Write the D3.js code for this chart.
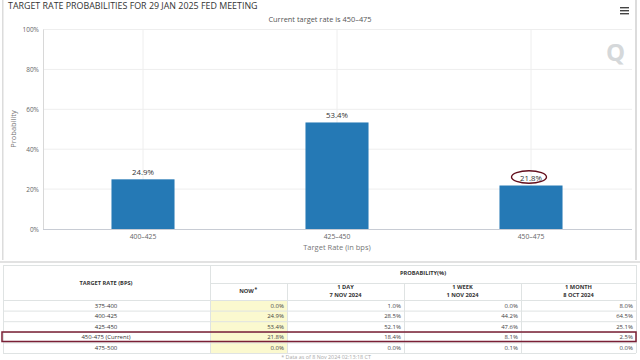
<!DOCTYPE html>
<html><head><meta charset="utf-8">
<script src="https://cdn.jsdelivr.net/npm/d3@7"></script>
<style>html,body{margin:0;padding:0;background:#fff;overflow:hidden}svg{display:block}text{font-family:"Open Sans",sans-serif}</style>
</head><body><svg id="c" width="640" height="360"></svg>
<script>
const categories=["400-425","425-450","450-475"];
const values=[24.9,53.4,21.8];
const yTicks=[0,20,40,60,80,100];
const rates=["375-400","400-425","425-450","450-475 (Current)","475-500"];
const nowCol=["0.0%","24.9%","53.4%","21.8%","0.0%"];
const dayCol=["1.0%","28.5%","52.1%","18.4%","0.0%"];
const weekCol=["0.0%","44.2%","47.6%","8.1%","0.1%"];
const monthCol=["8.0%","64.5%","25.1%","2.5%","0.0%"];
const colHeads=[["NOW"],["1 DAY","7 NOV 2024"],["1 WEEK","1 NOV 2024"],["1 MONTH","8 OCT 2024"]];
const highlighted="450-475";

const svg=d3.select("#c");
// page frame
svg.append("rect").attr("x",2).attr("y",0).attr("width",1.5).attr("height",260).attr("fill","#dcdcdc");
svg.append("rect").attr("x",635).attr("y",0).attr("width",2).attr("height",260).attr("fill","#dcdcdc");
svg.append("rect").attr("x",0).attr("y",261).attr("width",640).attr("height",2).attr("fill","#e2e2e2");

const x=d3.scaleBand().domain(categories).range([46,628]).paddingInner(0.675).paddingOuter(0.3375);
const y=d3.scaleLinear().domain([0,100]).range([229,29.5]);
const gridCol="#eeeeee";
const plotLeft=43,plotRight=632;
svg.append("g").selectAll("line").data(yTicks.slice(1)).join("line")
 .attr("x1",plotLeft).attr("x2",plotRight).attr("y1",d=>y(d)).attr("y2",d=>y(d)).attr("stroke",gridCol);
svg.append("g").selectAll("line").data(categories).join("line")
 .attr("x1",d=>x(d)+x.bandwidth()/2).attr("x2",d=>x(d)+x.bandwidth()/2).attr("y1",y(100)).attr("y2",y(0)).attr("stroke",gridCol);
svg.append("line").attr("x1",plotLeft+.5).attr("x2",plotLeft+.5).attr("y1",y(100)).attr("y2",y(0)).attr("stroke","#d8d8d8");
svg.append("line").attr("x1",plotLeft).attr("x2",plotRight).attr("y1",y(0)+.5).attr("y2",y(0)+.5).attr("stroke","#c8ccd4");

svg.append("g").selectAll("rect").data(categories).join("rect")
 .attr("x",d=>x(d)).attr("width",x.bandwidth())
 .attr("y",(d,i)=>y(values[i])).attr("height",(d,i)=>y(0)-y(values[i])).attr("fill","#2579b5");
svg.append("g").selectAll("text").data(categories).join("text")
 .attr("x",d=>x(d)+x.bandwidth()/2).attr("y",(d,i)=>y(values[i])-4.5)
 .attr("text-anchor","middle").attr("font-size",7.8).attr("fill","#333").text((d,i)=>values[i].toFixed(1)+"%");

const hi=categories.indexOf(highlighted);
svg.append("ellipse").attr("cx",x(highlighted)+x.bandwidth()/2-2).attr("cy",y(values[hi])-8.5)
 .attr("rx",17.5).attr("ry",6.3).attr("fill","none").attr("stroke","#64101e").attr("stroke-width",1.4);

svg.append("g").selectAll("text").data(yTicks).join("text")
 .attr("x",39).attr("y",d=>y(d)+2.5).attr("text-anchor","end").attr("font-size",6.5).attr("fill","#666").text(d=>d+"%");
svg.append("g").selectAll("text").data(categories).join("text")
 .attr("x",d=>x(d)+x.bandwidth()/2).attr("y",239).attr("text-anchor","middle").attr("font-size",6.8).attr("fill","#666").text(d=>d.replace("-","–"));
svg.append("text").attr("x",337).attr("y",250).attr("text-anchor","middle").attr("font-size",7.5).attr("fill","#777").text("Target Rate (in bps)");
svg.append("text").attr("transform","translate(16,129) rotate(-90)").attr("text-anchor","middle").attr("font-size",7.5).attr("fill","#777").text("Probability");
svg.append("text").attr("x",8).attr("y",9).attr("font-size",8.9).attr("fill","#333").text("TARGET RATE PROBABILITIES FOR 29 JAN 2025 FED MEETING");
svg.append("text").attr("x",320).attr("y",22).attr("text-anchor","middle").attr("font-size",7.4).attr("fill","#555").text("Current target rate is 450–475");
// menu icon
svg.append("g").selectAll("rect").data([7,10,13]).join("rect").attr("x",620).attr("y",d=>d).attr("width",9).attr("height",1.4).attr("fill","#444");
// watermark
svg.append("text").attr("x",606).attr("y",61).attr("font-size",24).attr("font-weight","bold").attr("fill","#d5d8da").text("Q");

// table
const colX=[210,287,404,521,636];
const tableTop=265,midH=283,rowY=[300,310.6,321.2,331.8,342.4,353];
const line="#dfe3e3";
const t=svg.append("g");
t.append("rect").attr("x",colX[0]).attr("y",rowY[0]).attr("width",colX[1]-colX[0]).attr("height",rowY[5]-rowY[0]).attr("fill","#fbf9cf");
rowY.forEach(v=>t.append("line").attr("x1",3).attr("x2",colX[4]).attr("y1",v+.5).attr("y2",v+.5).attr("stroke",line));
t.append("line").attr("x1",3).attr("x2",colX[4]).attr("y1",tableTop+.5).attr("y2",tableTop+.5).attr("stroke",line);
t.append("line").attr("x1",colX[0]).attr("x2",colX[4]).attr("y1",midH+.5).attr("y2",midH+.5).attr("stroke",line);
[3,...colX].forEach((v,i)=>t.append("line").attr("x1",v+.5).attr("x2",v+.5).attr("y1",(i>1&&i<5)?midH:tableTop).attr("y2",rowY[5]).attr("stroke",line));
t.append("text").attr("x",106).attr("y",284.5).attr("text-anchor","middle").attr("font-size",5.7).attr("font-weight","bold").attr("fill","#333").text("TARGET RATE (BPS)");
t.append("text").attr("x",423).attr("y",275).attr("text-anchor","middle").attr("font-size",5.7).attr("font-weight","bold").attr("fill","#333").text("PROBABILITY(%)");
colHeads.forEach((h,i)=>{
  const cx=i==0?246.5:(colX[i]+colX[i+1])/2;
  h.forEach((s,j)=>t.append("text").attr("x",cx).attr("y",(h.length==1?293:289)+j*7.5).attr("text-anchor","middle").attr("font-size",5.7).attr("font-weight","bold").attr("fill","#333").text(s));
});
t.append("text").attr("x",254.5).attr("y",291).attr("font-size",5).attr("font-weight","bold").attr("fill","#333").text("*");
rates.forEach((r,i)=>t.append("text").attr("x",106).attr("y",rowY[i]+7.5).attr("text-anchor","middle").attr("font-size",6).attr("fill","#333").text(r));
[nowCol,dayCol,weekCol,monthCol].forEach((col,c)=>col.forEach((s,i)=>
  t.append("text").attr("x",colX[c+1]-3).attr("y",rowY[i]+7.5).attr("text-anchor","end").attr("font-size",6).attr("fill","#444").text(s)));
t.append("rect").attr("x",2).attr("y",332).attr("width",634).attr("height",9.5).attr("fill","none").attr("stroke","#7a1f35").attr("stroke-width",1.5);
t.append("text").attr("x",326).attr("y",358.5).attr("text-anchor","middle").attr("font-size",5.4).attr("fill","#aaa").text("* Data as of 8 Nov 2024 02:13:18 CT");
</script></body></html>
